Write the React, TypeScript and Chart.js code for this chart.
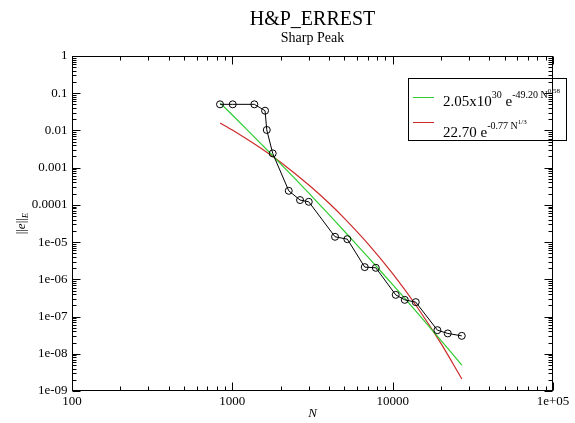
import React, { useEffect, useRef } from "react";
import { Chart, registerables } from "chart.js";
Chart.register(...registerables);

const titleText = "H&P_ERREST";
const subtitleText = "Sharp Peak";
const xTickValues = [100, 1000, 10000, 100000];
const xTickLabels = ["100", "1000", "10000", "1e+05"];
const yTickValues = [1, 0.1, 0.01, 0.001, 0.0001, 1e-5, 1e-6, 1e-7, 1e-8, 1e-9];
const yTickLabels = ["1", "0.1", "0.01", "0.001", "0.0001", "1e-05", "1e-06", "1e-07", "1e-08", "1e-09"];

// measured error vs. degrees of freedom
const dofN = [838, 1006, 1372, 1600, 1640, 1786, 2248, 2645, 2997, 4371, 5215, 6697, 7849, 10447, 11893, 13936, 19006, 22060, 26980];
const errE = [0.0503, 0.0503, 0.0503, 0.0339, 0.0103, 0.00242, 2.39e-4, 1.35e-4, 1.21e-4, 1.39e-5, 1.2e-5, 2.13e-6, 2.04e-6, 3.83e-7, 2.81e-7, 2.44e-7, 4.31e-8, 3.52e-8, 3.03e-8];

// fitted curves
const fitN = [840, 1000, 1500, 2000, 3000, 4000, 5000, 7000, 10000, 14000, 20000, 27000];
const greenFit = [0.0544, 0.026, 0.00451, 0.00127, 2.08e-4, 5.53e-5, 1.96e-5, 4.01e-6, 7.2e-7, 1.38e-7, 2.3e-8, 4.97e-9];
const redFit = [0.01588, 0.01028, 0.00338, 0.00139, 3.41e-4, 1.12e-4, 4.34e-5, 9.1e-6, 1.42e-6, 1.98e-7, 1.9e-8, 2.11e-9];

const SERIF = '"Liberation Serif", "Times New Roman", serif';
const GREEN = "#2ecc2e";
const RED = "#cc2a2a";

type Run = { t: string; size: number; dy: number; italic?: boolean };

function drawRuns(ctx: CanvasRenderingContext2D, x: number, y: number, runs: Run[]) {
  let cx = x;
  for (const r of runs) {
    ctx.font = `${r.italic ? "italic " : ""}${r.size}px ${SERIF}`;
    ctx.fillText(r.t, cx, y + r.dy);
    cx += ctx.measureText(r.t).width;
  }
  return cx;
}

const gracePlugin = {
  id: "graceFrame",
  afterDraw(chart: any) {
    const { ctx, chartArea: a, scales } = chart;
    const xs = scales.x, ys = scales.y;
    ctx.save();
    ctx.strokeStyle = "#000";
    ctx.fillStyle = "#000";
    ctx.lineWidth = 1;
    const L = Math.round(a.left) + 0.5, R = Math.round(a.right) - 0.5;
    const T = Math.round(a.top) + 0.5, B = Math.round(a.bottom) - 0.5;
    ctx.strokeRect(L, T, R - L, B - T);

    ctx.beginPath();
    // x ticks
    for (let d = 100; d <= 100000; d *= 10) {
      for (let m = 1; m <= 9; m++) {
        const v = d * m;
        if (v > 100000) break;
        const px = Math.round(xs.getPixelForValue(v)) + 0.5;
        const len = m === 1 ? 8 : 4;
        ctx.moveTo(px, B); ctx.lineTo(px, B - len);
        ctx.moveTo(px, T); ctx.lineTo(px, T + len);
      }
    }
    // y ticks
    for (let e = -9; e <= 0; e++) {
      for (let m = 1; m <= 9; m++) {
        const v = m * Math.pow(10, e);
        if (v > 1.0001) break;
        const py = Math.round(ys.getPixelForValue(v)) + 0.5;
        const len = m === 1 ? 8 : 4;
        ctx.moveTo(L, py); ctx.lineTo(L + len, py);
        ctx.moveTo(R, py); ctx.lineTo(R - len, py);
      }
    }
    ctx.stroke();

    // tick labels
    ctx.font = `13px ${SERIF}`;
    ctx.textAlign = "center";
    ctx.textBaseline = "top";
    xTickValues.forEach((v, i) => {
      ctx.fillText(xTickLabels[i], xs.getPixelForValue(v), B + 5);
    });
    ctx.textAlign = "right";
    ctx.textBaseline = "middle";
    yTickValues.forEach((v, i) => {
      ctx.fillText(yTickLabels[i], L - 5, ys.getPixelForValue(v));
    });

    // titles
    const cx = (a.left + a.right) / 2;
    ctx.textAlign = "center";
    ctx.textBaseline = "alphabetic";
    ctx.font = `20px ${SERIF}`;
    ctx.fillText(titleText, cx, 25);
    ctx.font = `14px ${SERIF}`;
    ctx.fillText(subtitleText, cx, 42);

    // x axis title
    ctx.font = `italic 13px ${SERIF}`;
    ctx.textBaseline = "middle";
    ctx.fillText("N", cx, 414);

    // y axis title  ||e||_E
    ctx.save();
    ctx.translate(22, (a.top + a.bottom) / 2);
    ctx.rotate(-Math.PI / 2);
    ctx.textAlign = "left";
    ctx.textBaseline = "middle";
    const yRuns: Run[] = [
      { t: "||", size: 13, dy: 0 },
      { t: "e", size: 13, dy: 0, italic: true },
      { t: "||", size: 13, dy: 0 },
      { t: "E", size: 9, dy: 4, italic: true },
    ];
    let w = 0;
    for (const r of yRuns) {
      ctx.font = `${r.italic ? "italic " : ""}${r.size}px ${SERIF}`;
      w += ctx.measureText(r.t).width;
    }
    drawRuns(ctx, -w / 2, 0, yRuns);
    ctx.restore();

    // legend
    ctx.textAlign = "left";
    ctx.textBaseline = "alphabetic";
    ctx.strokeStyle = "#000";
    ctx.strokeRect(408.5, 78.5, 158, 62);
    ctx.lineWidth = 1;
    ctx.strokeStyle = GREEN;
    ctx.beginPath(); ctx.moveTo(413, 97.5); ctx.lineTo(434, 97.5); ctx.stroke();
    ctx.strokeStyle = RED;
    ctx.beginPath(); ctx.moveTo(413, 122.5); ctx.lineTo(434, 122.5); ctx.stroke();
    ctx.fillStyle = "#000";
    drawRuns(ctx, 443, 106, [
      { t: "2.05x10", size: 15, dy: 0 },
      { t: "30", size: 10, dy: -8 },
      { t: " e", size: 15, dy: 0 },
      { t: "-49.20 N", size: 10, dy: -8 },
      { t: "0.58", size: 7, dy: -13 },
    ]);
    drawRuns(ctx, 443, 137, [
      { t: "22.70 e", size: 15, dy: 0 },
      { t: "-0.77 N", size: 10, dy: -8 },
      { t: "1/3", size: 7, dy: -13 },
    ]);
    ctx.restore();
  },
};

export default function App() {
  const ref = useRef<HTMLCanvasElement | null>(null);
  useEffect(() => {
    if (!ref.current) return;
    const chart = new Chart(ref.current, {
      type: "scatter",
      data: {
        datasets: [
          {
            label: "error",
            data: dofN.map((n, i) => ({ x: n, y: errE[i] })),
            showLine: true,
            borderColor: "#000",
            borderWidth: 1,
            pointRadius: 3.5,
            pointBorderWidth: 1,
            pointBorderColor: "#000",
            pointBackgroundColor: "rgba(0,0,0,0)",
          },
          {
            label: "green fit",
            data: fitN.map((n, i) => ({ x: n, y: greenFit[i] })),
            showLine: true,
            borderColor: GREEN,
            borderWidth: 1.2,
            pointRadius: 0,
            tension: 0.3,
          },
          {
            label: "red fit",
            data: fitN.map((n, i) => ({ x: n, y: redFit[i] })),
            showLine: true,
            borderColor: RED,
            borderWidth: 1.2,
            pointRadius: 0,
            tension: 0.3,
          },
        ],
      },
      options: {
        responsive: false,
        animation: false,
        devicePixelRatio: 1,
        layout: { padding: { left: 72, top: 56, right: 22, bottom: 32 } },
        plugins: { legend: { display: false }, title: { display: false }, tooltip: { enabled: false } },
        scales: {
          x: { type: "logarithmic", min: 100, max: 100000, display: false },
          y: { type: "logarithmic", min: 1e-9, max: 1, display: false },
        },
      },
      plugins: [gracePlugin],
    });
    return () => chart.destroy();
  }, []);
  return (
    <div style={{ position: "absolute", left: 0, top: 0, width: 575, height: 423, background: "#fff" }}>
      <canvas ref={ref} width={575} height={423} />
    </div>
  );
}
